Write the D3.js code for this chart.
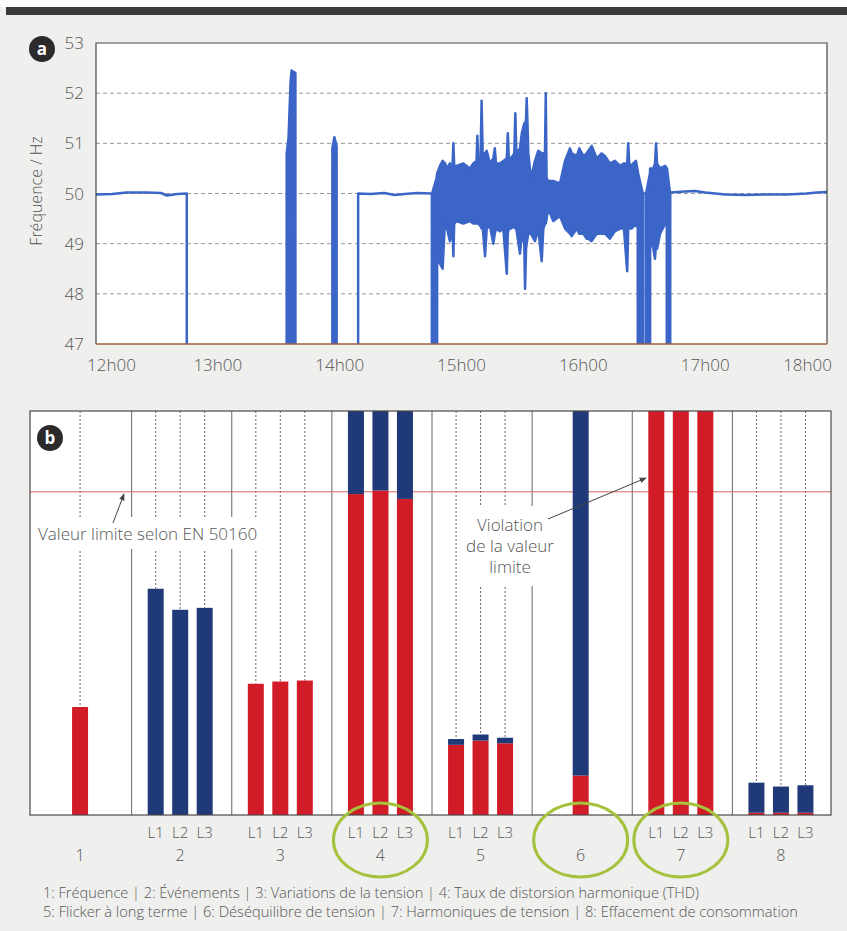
<!DOCTYPE html>
<html>
<head>
<meta charset="utf-8">
<script src="https://cdn.jsdelivr.net/npm/d3@7"></script>
<style>
  body { margin: 0; background: #efefed; }
  svg { display: block; }
  text { font-family: "Open Sans", "DejaVu Sans", sans-serif; font-weight: 300; fill: #555; }
</style>
</head>
<body>
<script>
// ---- data (panel a) ----
const hourTicks = [0, 60, 120, 180, 240, 300, 360]; // minutes after 12h00
const hourLabels = ["12h00", "13h00", "14h00", "15h00", "16h00", "17h00", "18h00"];
const freqTicks = [47, 48, 49, 50, 51, 52, 53];

// [minutes after 12h00, low Hz, high Hz] ; 0 = no measurement (out of range)
const freqTrace = [
  [0, 49.98, 49.98], [8, 49.99, 49.99], [15, 50.02, 50.02], [25, 50.02, 50.02],
  [32, 50.01, 50.01], [35, 49.96, 49.96], [40, 49.99, 49.99], [44.7, 50.0, 50.0],
  [44.8, 0, 0], [93.8, 0, 0],
  [93.9, 0, 50.8], [94.8, 48.4, 51.1], [95.8, 48.6, 52.2], [96.3, 0, 52.45],
  [98.2, 0, 52.4], [98.4, 0, 0],
  [116.2, 0, 0], [116.4, 0, 50.9], [117.4, 0, 51.12], [118.5, 0, 50.95], [118.7, 0, 0],
  [129.0, 0, 0], [129.1, 50.0, 50.0], [135, 49.99, 49.99], [142, 50.01, 50.01],
  [147, 49.97, 49.97], [152, 49.99, 49.99], [158, 50.01, 50.01], [165.4, 50.0, 50.0],
  [165.5, 0, 50.0], [167.7, 0, 50.3],
  [168.0, 48.7, 50.4], [169.4, 48.6, 50.55], [170.7, 48.5, 50.65], [171.9, 49.5, 50.6],
  [172.9, 49.3, 50.5], [174.3, 49.05, 50.6], [175.6, 49.3, 50.55], [176.0, 48.75, 51.0],
  [176.4, 49.4, 50.55], [177.6, 49.45, 50.55], [180.9, 49.4, 50.6], [184.2, 49.45, 50.5],
  [185.8, 49.4, 50.6], [187.4, 49.4, 50.65], [187.8, 49.45, 51.15], [188.2, 49.4, 50.7],
  [189.4, 49.35, 50.75], [189.9, 49.3, 51.85], [190.4, 49.35, 50.8], [191.6, 48.75, 50.8],
  [192.4, 49.3, 50.85], [194.0, 49.35, 50.6], [195.7, 49.0, 50.7], [196.4, 49.2, 50.9],
  [197.0, 49.3, 50.6], [198.9, 49.25, 50.6], [200.6, 49.3, 50.65], [202.3, 48.4, 50.7],
  [202.8, 49.2, 51.2], [203.3, 49.3, 50.7], [204.2, 49.3, 50.7], [206.0, 49.35, 50.8],
  [206.5, 49.3, 51.6], [207.0, 49.3, 50.8], [208.8, 48.8, 50.9], [209.7, 49.2, 51.2],
  [210.9, 49.0, 51.4], [211.3, 48.1, 51.3], [211.8, 48.9, 51.5], [212.1, 49.0, 51.9],
  [212.5, 49.1, 51.4], [212.9, 49.2, 50.8], [214.2, 49.2, 50.3], [216.2, 49.05, 50.65],
  [217.8, 49.3, 50.85], [219.5, 48.65, 50.8], [220.3, 49.3, 50.8], [221.1, 49.4, 50.8],
  [221.5, 49.4, 52.0], [221.9, 49.5, 50.3], [222.7, 49.7, 50.25], [225.2, 49.45, 50.25],
  [228.5, 49.55, 50.2], [231.0, 49.3, 50.65], [233.4, 49.2, 50.9], [234.3, 49.15, 50.8],
  [236.8, 49.3, 50.75], [238.0, 49.2, 50.9], [240.0, 49.2, 50.75], [241.6, 49.1, 50.8],
  [242.4, 49.1, 50.85], [244.1, 49.05, 50.95], [246.6, 49.2, 50.7], [249.0, 49.2, 50.8],
  [250.6, 49.2, 50.75], [253.1, 49.1, 50.6], [255.6, 49.25, 50.65], [258.1, 49.3, 50.55],
  [260.0, 49.3, 50.6], [261.6, 48.45, 50.6], [262.1, 49.3, 51.0], [262.6, 49.3, 50.6],
  [263.8, 49.3, 50.55], [264.6, 49.35, 50.6], [265.9, 49.35, 50.65], [266.8, 49.35, 50.45],
  [267.0, 0, 50.4], [269.3, 0, 50.0], [269.4, 50.0, 50.0], [270.8, 50.0, 50.0],
  [270.9, 0, 50.0], [272.8, 0, 50.4],
  [272.9, 49.0, 50.5], [273.7, 49.0, 50.5], [274.5, 48.9, 50.5], [275.3, 48.7, 50.6],
  [275.8, 49.0, 51.0], [276.3, 48.9, 50.6], [277.8, 49.2, 50.5], [280.3, 49.4, 50.55],
  [281.1, 49.4, 50.5], [281.2, 0, 50.5], [282.7, 0, 50.0],
  [282.8, 50.02, 50.02], [290, 50.04, 50.04], [295, 50.05, 50.05], [300, 50.02, 50.02],
  [310, 49.98, 49.98], [320, 49.97, 49.97], [330, 49.98, 49.98], [340, 49.98, 49.98],
  [350, 50.0, 50.0], [355, 50.02, 50.02], [360, 50.03, 50.03]
];

// ---- data (panel b) ----  values in % of the EN 50160 limit
const groups = ["1", "2", "3", "4", "5", "6", "7", "8"];
const phases = ["L1", "L2", "L3"];
const redValues = [
  [33.4], [0, 0, 0], [40.6, 41.3, 41.6], [99.3, 100.4, 97.8],
  [21.7, 23.0, 22.2], [12.2], [125, 125, 125], [0.7, 0.7, 0.7]
];
const blueValues = [
  [0], [70.0, 63.5, 64.1], [0, 0, 0], [25.7, 24.6, 27.2],
  [1.8, 1.9, 1.7], [112.8], [0, 0, 0], [9.3, 8.1, 8.5]
];
const limitValue = 100;
const circledGroups = ["4", "6", "7"];
const legendLines = [
  "1: Fréquence  |  2: Événements  |  3: Variations de la tension  |  4: Taux de distorsion harmonique (THD)",
  "5: Flicker à long terme  |  6: Déséquilibre de tension  |  7: Harmoniques de tension  |  8: Effacement de consommation"
];

const W = 847, H = 931;
const blue = "#3b65c6", red = "#d11b26", navy = "#1f3979";
const grey = "#555";

const svg = d3.select("body").append("svg").attr("width", W).attr("height", H);
svg.append("rect").attr("width", W).attr("height", H).attr("fill", "#efefed");
svg.append("rect").attr("width", W).attr("height", 7).attr("fill", "#fbfbfb");
svg.append("rect").attr("x", 6).attr("y", 7).attr("width", W - 6).attr("height", 8).attr("fill", "#3a3838");

const defs = svg.append("defs");
defs.append("marker").attr("id", "arrow")
  .attr("viewBox", "0 0 10 10").attr("refX", 9).attr("refY", 5)
  .attr("markerWidth", 7).attr("markerHeight", 7).attr("orient", "auto")
  .append("path").attr("d", "M0,1 L10,5 L0,9 Z").attr("fill", "#444");

const badge = (cx, cy, letter) => {
  svg.append("circle").attr("cx", cx).attr("cy", cy).attr("r", 13).attr("fill", "#2c2a2a");
  svg.append("text").attr("x", cx).attr("y", cy).attr("dy", "0.36em")
    .attr("text-anchor", "middle").style("fill", "#fff").style("font-weight", 700)
    .style("font-size", "17px").text(letter);
};

// ================= panel a =================
const pa = { left: 96, right: 827, top: 43, bottom: 344 };
const x = d3.scaleLinear().domain([0, 360]).range([pa.left, pa.right]);
const y = d3.scaleLinear().domain([47, 53]).range([pa.bottom, pa.top]);

svg.append("rect").attr("x", pa.left).attr("y", pa.top)
  .attr("width", pa.right - pa.left).attr("height", pa.bottom - pa.top).attr("fill", "#fff");

svg.append("g").selectAll("line").data(freqTicks.slice(1, -1)).join("line")
  .attr("x1", pa.left).attr("x2", pa.right)
  .attr("y1", (d) => y(d)).attr("y2", (d) => y(d))
  .attr("stroke", "#999").attr("stroke-width", 1).attr("stroke-dasharray", "4,3");

defs.append("clipPath").attr("id", "clipA").append("rect")
  .attr("x", pa.left).attr("y", pa.top - 2)
  .attr("width", pa.right - pa.left).attr("height", pa.bottom - pa.top + 2);

const area = d3.area()
  .x((d) => x(d[0]))
  .y0((d) => y(d[1]))
  .y1((d) => y(d[2]));

svg.append("path").datum(freqTrace)
  .attr("clip-path", "url(#clipA)")
  .attr("d", area)
  .attr("fill", blue).attr("stroke", blue)
  .attr("stroke-width", 2.5).attr("stroke-linejoin", "round");

// frame
svg.append("path")
  .attr("d", `M${pa.left},${pa.bottom} V${pa.top} H${pa.right} V${pa.bottom}`)
  .attr("fill", "none").attr("stroke", "#4a4646").attr("stroke-width", 1.2);
svg.append("line").attr("x1", pa.left).attr("x2", pa.right)
  .attr("y1", pa.bottom).attr("y2", pa.bottom)
  .attr("stroke", "#a0603c").attr("stroke-width", 1.5);

svg.append("g").selectAll("text").data(freqTicks).join("text")
  .attr("x", pa.left - 12).attr("y", (d) => y(d)).attr("dy", "0.36em")
  .attr("text-anchor", "end").style("font-size", "17px").text((d) => d);

svg.append("g").selectAll("text").data(hourTicks).join("text")
  .attr("x", (d, i) => i === 0 ? x(d) - 9 : i === hourTicks.length - 1 ? x(d) + 5 : x(d))
  .attr("y", 371)
  .attr("text-anchor", (d, i) => i === 0 ? "start" : i === hourTicks.length - 1 ? "end" : "middle")
  .style("font-size", "17px")
  .text((d, i) => hourLabels[i]);

svg.append("text").attr("transform", "translate(42,191) rotate(-90)")
  .attr("text-anchor", "middle").style("font-size", "16px").text("Fréquence / Hz");

badge(42, 49, "a");

// ================= panel b =================
const pb = { left: 30, right: 831, top: 411, bottom: 815 };
const bx = d3.scaleBand().domain(groups).range([pb.left, pb.right]);
const by = d3.scaleLinear().domain([0, 125]).range([pb.bottom, pb.top]);
const px = d3.scalePoint().domain(phases).range([-24.5, 24.5]);
const barW = 16;

svg.append("rect").attr("x", pb.left).attr("y", pb.top)
  .attr("width", pb.right - pb.left).attr("height", pb.bottom - pb.top).attr("fill", "#fff");

const bars = [];
groups.forEach((g, i) => {
  redValues[i].forEach((r, j) => {
    const n = redValues[i].length;
    bars.push({
      group: g,
      phase: n === 1 ? null : phases[j],
      red: r,
      blue: blueValues[i][j]
    });
  });
});
const barX = (d) => bx(d.group) + bx.bandwidth() / 2 + (d.phase ? px(d.phase) : 0);

// group separators
svg.append("g").selectAll("line").data(groups.slice(1)).join("line")
  .attr("x1", (d) => bx(d) + 1.5).attr("x2", (d) => bx(d) + 1.5)
  .attr("y1", pb.top).attr("y2", pb.bottom)
  .attr("stroke", "#6a6666").attr("stroke-width", 1);

// dotted guides down to each bar
svg.append("g").selectAll("line").data(bars).join("line")
  .attr("x1", barX).attr("x2", barX)
  .attr("y1", pb.top).attr("y2", (d) => by(Math.min(125, d.red + d.blue)))
  .attr("stroke", "#666").attr("stroke-width", 1).attr("stroke-dasharray", "2,2");

// limit line
svg.append("line").attr("x1", pb.left).attr("x2", pb.right)
  .attr("y1", by(limitValue)).attr("y2", by(limitValue))
  .attr("stroke", "#e0625c").attr("stroke-width", 1);

// stacked bars
const barG = svg.append("g");
barG.selectAll("rect.red").data(bars.filter((d) => d.red > 0)).join("rect")
  .attr("class", "red")
  .attr("x", (d) => barX(d) - barW / 2).attr("width", barW)
  .attr("y", (d) => by(Math.min(125, d.red)))
  .attr("height", (d) => by(0) - by(Math.min(125, d.red)))
  .attr("fill", red);
barG.selectAll("rect.blue").data(bars.filter((d) => d.blue > 0)).join("rect")
  .attr("class", "blue")
  .attr("x", (d) => barX(d) - barW / 2).attr("width", barW)
  .attr("y", (d) => by(Math.min(125, d.red + d.blue)))
  .attr("height", (d) => by(d.red) - by(Math.min(125, d.red + d.blue)))
  .attr("fill", navy);

// annotations
svg.append("rect").attr("x", 34).attr("y", 517).attr("width", 228).attr("height", 32).attr("fill", "#fff");
svg.append("text").attr("x", 38).attr("y", 540).attr("fill", grey)
  .style("font-size", "17px").text("Valeur limite selon EN 50160");
svg.append("line").attr("x1", 113).attr("y1", 523).attr("x2", 124).attr("y2", 494)
  .attr("stroke", "#444").attr("stroke-width", 1).attr("marker-end", "url(#arrow)");

svg.append("rect").attr("x", 466).attr("y", 506).attr("width", 82).attr("height", 80).attr("fill", "#fff");
["Violation", "de la valeur", "limite"].forEach((s, i) => {
  svg.append("text").attr("x", 510).attr("y", 531 + i * 21)
    .attr("text-anchor", "middle").style("fill", grey)
    .style("font-size", "17px").text(s);
});
svg.append("line").attr("x1", 548).attr("y1", 519).attr("x2", 646).attr("y2", 478)
  .attr("stroke", "#444").attr("stroke-width", 1).attr("marker-end", "url(#arrow)");

// frame
svg.append("rect").attr("x", pb.left).attr("y", pb.top)
  .attr("width", pb.right - pb.left).attr("height", pb.bottom - pb.top)
  .attr("fill", "none").attr("stroke", "#4a4646").attr("stroke-width", 1.2);

// category labels
svg.append("g").selectAll("text").data(bars.filter((d) => d.phase)).join("text")
  .attr("x", barX).attr("y", 838).attr("text-anchor", "middle")
  .style("font-size", "15px").text((d) => d.phase);
svg.append("g").selectAll("text").data(groups).join("text")
  .attr("x", (d) => bx(d) + bx.bandwidth() / 2).attr("y", 861).attr("text-anchor", "middle")
  .style("font-size", "16px").text((d) => d);

svg.append("g").selectAll("ellipse").data(circledGroups).join("ellipse")
  .attr("cx", (d) => bx(d) + bx.bandwidth() / 2).attr("cy", 840)
  .attr("rx", 47).attr("ry", 37)
  .attr("fill", "none").attr("stroke", "#a4c23b").attr("stroke-width", 3);

badge(50, 438, "b");

// legend
svg.append("g").selectAll("text").data(legendLines).join("text")
  .attr("x", 43).attr("y", (d, i) => 898 + i * 19)
  .attr("textLength", (d, i) => i === 0 ? 656 : 755)
  .attr("lengthAdjust", "spacingAndGlyphs")
  .style("font-size", "14px").text((d) => d);
</script>
</body>
</html>
